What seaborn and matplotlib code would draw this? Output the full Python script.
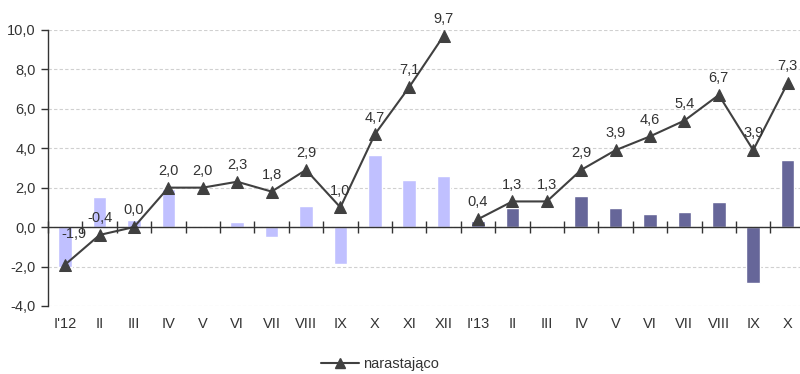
import numpy as np
import pandas as pd
import matplotlib
matplotlib.use("Agg")
import matplotlib.pyplot as plt
import seaborn as sns
from matplotlib.lines import Line2D

# Month labels (2012 and 2013)
months = ["I'12", "II", "III", "IV", "V", "VI", "VII", "VIII", "IX", "X", "XI", "XII",
          "I'13", "II", "III", "IV", "V", "VI", "VII", "VIII", "IX", "X"]
year = ["2012"] * 12 + ["2013"] * 10

# Monthly change (bars)
monthly = [-2.0, 1.5, 0.35, 1.95, 0.0, 0.27, -0.49, 1.07, -1.88, 3.65, 2.39, 2.6,
           0.32, 0.96, -0.05, 1.59, 0.96, 0.64, 0.78, 1.28, -2.83, 3.42]

# Cumulative value within each year (line)
cumulative = [-1.9, -0.4, 0.0, 2.0, 2.0, 2.3, 1.8, 2.9, 1.0, 4.7, 7.1, 9.7,
              0.4, 1.3, 1.3, 2.9, 3.9, 4.6, 5.4, 6.7, 3.9, 7.3]

legend_label = "narastająco"

sns.set_theme(style="white")
plt.rcParams["font.family"] = ["Liberation Sans", "DejaVu Sans"]

df = pd.DataFrame({
    "pos": np.arange(len(months)),
    "month": [f"{i}" for i in range(len(months))],
    "year": year,
    "monthly": monthly,
    "cumulative": cumulative,
})

fig = plt.figure(figsize=(8.0, 3.74), dpi=100)
ax = fig.add_axes([0.06, 0.182, 0.946, 0.738])

text_col = "#333333"
line_col = "#404040"
fs = 10.5

sns.barplot(data=df, x="month", y="monthly", hue="year",
            palette={"2012": "#c0c0ff", "2013": "#666699"},
            dodge=False, width=0.39, ax=ax, legend=False, saturation=1)

# one line segment per year
sns.lineplot(data=df, x="pos", y="cumulative", hue="year",
             palette={"2012": line_col, "2013": line_col}, ax=ax,
             linewidth=1.5, marker="^", markersize=8, markeredgecolor=line_col,
             legend=False)

# label nudges (points) where the default spot collides with the line
nudge = {0: (6, 10)}
for x, v in zip(df["pos"], cumulative):
    dx, dy = nudge.get(x, (0, 0))
    ax.annotate(f"{v:.1f}".replace(".", ","), (x, v), xytext=(dx, 7 + dy),
                textcoords="offset points", ha="center", va="bottom",
                fontsize=fs, color=text_col)

ax.set_xlim(-0.5, len(months) - 0.5)
ax.set_ylim(-4, 10)
yt = np.arange(-4, 10.1, 2)
ax.set_yticks(yt)
ax.set_yticklabels([f"{t:.1f}".replace(".", ",") for t in yt], fontsize=fs, color=text_col)
ax.set_xticks(df["pos"])
ax.set_xticklabels(months, fontsize=fs, color=text_col)
ax.tick_params(axis="x", length=0, pad=8)
ax.tick_params(axis="y", direction="out", length=5, width=1, color="#333333",
               left=True, pad=4)
ax.set_xlabel("")
ax.set_ylabel("")

for s in ["top", "right", "bottom"]:
    ax.spines[s].set_visible(False)
ax.spines["left"].set_color("#333333")
ax.spines["left"].set_linewidth(1)

ax.yaxis.grid(True, linestyle=(0, (3, 2)), color="#d0d0d0", linewidth=0.8)
ax.set_axisbelow(True)

# category axis drawn along zero
ax.axhline(0, color="#333333", linewidth=1, zorder=3)
zero_axis = ax.secondary_xaxis((0 - (-4)) / 14)
zero_axis.set_xticks(np.arange(-0.5, len(months) - 0.4, 1.0))
zero_axis.set_xticklabels([])
zero_axis.tick_params(direction="inout", length=8, width=1, color="#333333")
zero_axis.spines["bottom"].set_visible(False)

handle = Line2D([], [], color=line_col, linewidth=1.5, marker="^", markersize=7)
fig.legend([handle], [legend_label], loc="center", bbox_to_anchor=(0.475, 0.027),
           frameon=False, fontsize=fs, handlelength=2.6, handletextpad=0.3,
           labelcolor=text_col)

fig.savefig("out.png", dpi=100)
